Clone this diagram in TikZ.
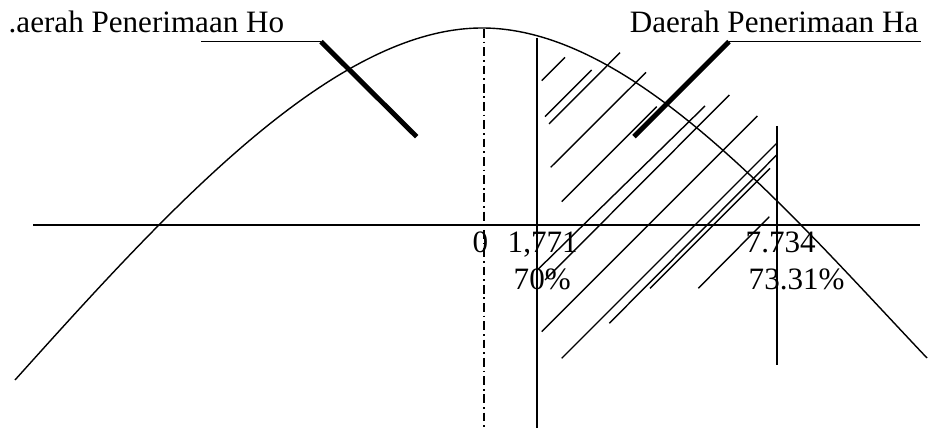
\documentclass[tikz,border=0pt]{standalone}
\usepackage{fontspec}
\setmainfont{Liberation Serif}
\usetikzlibrary{positioning}

\begin{document}
\begin{tikzpicture}[x=0.02cm, y=-0.02cm, line width=0.8pt,
    lbl/.style={inner sep=0pt, anchor=base west, font=\fontsize{17.7}{21}\selectfont},
    pointer/.style={line width=2.8pt},
    dashdot/.style={dash pattern=on 5pt off 2.2pt on 1pt off 2.2pt}]
\useasboundingbox (0,0) rectangle (934,428);
% axis and curve
\draw (33,225) -- (920,225);
\draw (15,380) .. controls (165,213) and (332,28) .. (482,28)
      .. controls (632,28) and (787,210) .. (927,358);
\draw[dashdot] (484,29) -- (484,428);
\draw (537,38) -- (537,428);
\draw (777,126) -- (777,365);
% hatching of the Ha region
\foreach \xa/\ya/\xb/\yb in {
    541.7/80.7/565/57.3, 545/116.7/591.7/70, 549/124/620/52.7,
    550.7/167.3/646/72.3, 561.7/201.7/656.7/106.7, 537.3/270/705/106,
    545/280/729.3/95, 541.7/331.7/757.3/116, 561.7/358.3/776.7/143.3,
    609.3/323.3/776.7/155, 650/288.3/770/168.3, 698.3/288.3/769.3/216.7}{
    \draw (\xa,\ya) -- (\xb,\yb);
}
% labels
\node[lbl] (lblHo) at (8,33) {.aerah Penerimaan Ho};
\node[lbl, anchor=base east] (lblHa) at (919,33) {Daerah Penerimaan Ha};
\node[lbl] (lblZero) at (472,253) {0};
\node[lbl] (lblCrit) at (507,253) {1,771};
\node[lbl] (lblPctA) at (513,290) {70\%};
\node[lbl] (lblTab) at (745,253) {7.734};
\node[lbl] (lblPctB) at (748,290) {73.31\%};
% pointers
\coordinate (hoStart) at (201,41.7);
\coordinate (hoKnee) at (321,41.7);
\coordinate (hoTip) at (416.7,136.7);
\coordinate (haEnd) at (920.7,41.7);
\coordinate (haKnee) at (729,41.7);
\coordinate (haTip) at (634,136.7);
\draw (hoStart) -- (hoKnee);
\draw[pointer] (hoKnee) -- (hoTip);
\draw (haEnd) -- (haKnee);
\draw[pointer] (haKnee) -- (haTip);
\end{tikzpicture}
\end{document}
